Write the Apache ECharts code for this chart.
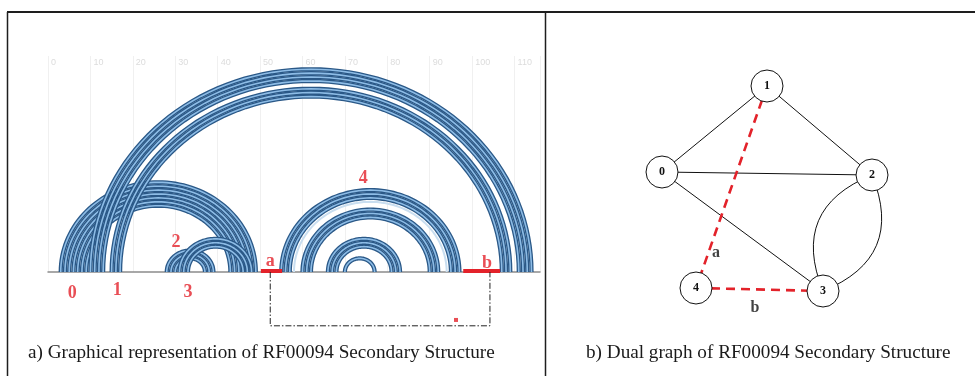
<!DOCTYPE html>
<html>
<head>
<meta charset="utf-8">
<script src="https://cdn.jsdelivr.net/npm/echarts@6/dist/echarts.min.js"></script>
<style>
  html, body { margin: 0; padding: 0; background: #fff; }
  #chart { width: 975px; height: 376px; }
</style>
</head>
<body>
<div id="chart"></div>
<script>
// helices of the arc diagram: outer pair (start, end) and number of stacked pairs
const helixStart = [3, 10, 15, 28, 31, 55, 60, 66, 70];
const helixEnd = [49, 114, 109, 39, 48, 97, 92, 83, 77];
const helixLength = [7, 4, 3, 3, 3, 3, 3, 3, 1];
// single pale arcs
const faintStart = [58];
const faintEnd = [94];

const axisTicks = [0, 10, 20, 30, 40, 50, 60, 70, 80, 90, 100, 110];

// red annotations on the arc diagram
const markText = ['0', '1', '2', '3', '4', 'a', 'b'];
const markX = [5.7, 16.3, 30.2, 33.0, 74.3, 52.4, 103.5];
const markY = [-5.4, -4.6, 7.7, -5.1, 24.1, 2.8, 2.3];

// unpaired strands a and b
const strandStart = [50.2, 97.9];
const strandEnd = [55.2, 106.6];

// bracket joining a and b
const bracketX = [52.4, 52.4, 104.2, 104.2];
const bracketY = [0, -13.8, -13.8, 0];

// dual graph
const nodeNames = ['0', '1', '2', '3', '4'];
const nodeX = [117, 222, 327, 278, 151];
const nodeY = [172, 86, 175, 291, 288];
const edgeSource = ['1', '1', '0', '0', '2', '2'];
const edgeTarget = ['0', '2', '2', '3', '3', '3'];
const edgeCurve = [0, 0, 0, 0, -0.5, 0.5];
const dashedSource = ['1', '4'];
const dashedTarget = ['4', '3'];
const edgeText = ['a', 'b'];
const edgeTextX = [171, 210];
const edgeTextY = [253, 308];

const red = '#e3222a';
const serif = '"Liberation Serif", "DejaVu Serif", serif';

const arcData = [];
helixStart.forEach((s, h) => {
  for (let k = 0; k < helixLength[h]; k++) {
    arcData.push([s + k, helixEnd[h] - k, 0]);
  }
});
faintStart.forEach((s, h) => arcData.push([s, faintEnd[h], 1]));

function renderArc(params, api) {
  const i = api.value(0), j = api.value(1), kind = api.value(2);
  const c = (i + j) / 2, r = (j - i) / 2;
  const pts = [];
  for (let k = 0; k <= 72; k++) {
    const t = Math.PI * k / 72;
    pts.push(api.coord([c - r * Math.cos(t), r * Math.sin(t)]));
  }
  if (kind === 1) {
    return { type: 'polyline', shape: { points: pts }, style: { fill: null, stroke: '#c9def0', lineWidth: 2 } };
  }
  return {
    type: 'group',
    children: [
      { type: 'polyline', shape: { points: pts }, style: { fill: null, stroke: '#2a5887', lineWidth: 4.2 } },
      { type: 'polyline', shape: { points: pts }, style: { fill: null, stroke: '#8dbce6', lineWidth: 1.6 } }
    ]
  };
}

const chart = echarts.init(document.getElementById('chart'), null, { renderer: 'canvas' });

const option = {
  animation: false,
  title: [
    {
      text: 'a) Graphical representation of RF00094 Secondary Structure',
      left: 28, top: 343, padding: 0,
      textStyle: { fontFamily: serif, fontSize: 19.2, fontWeight: 'normal', color: '#1a1a1a' }
    },
    {
      text: 'b) Dual graph of RF00094 Secondary Structure',
      left: 586, top: 343, padding: 0,
      textStyle: { fontFamily: serif, fontSize: 19.2, fontWeight: 'normal', color: '#1a1a1a' }
    }
  ],
  grid: [
    { left: 48, width: 492, top: 56, height: 216 },
    { left: 545, width: 430, top: 0, height: 376 }
  ],
  xAxis: [
    {
      gridIndex: 0, type: 'value', position: 'top', min: 0, max: 116, interval: 10,
      axisLine: { show: false }, axisTick: { show: false },
      axisLabel: {
        inside: true, margin: 2, align: 'left', padding: [0, 0, 0, 3],
        color: '#dcdcdc', fontSize: 9, showMaxLabel: false,
        formatter: v => (axisTicks.indexOf(v) >= 0 ? String(v) : '')
      },
      splitLine: { show: true, lineStyle: { color: '#f0f0f0', width: 1 } }
    },
    {
      gridIndex: 0, type: 'value', position: 'bottom', min: 0, max: 116,
      axisLine: { show: true, onZero: false, lineStyle: { color: '#8c8c8c', width: 1.5 } },
      axisTick: { show: false }, axisLabel: { show: false }, splitLine: { show: false }
    },
    { gridIndex: 1, type: 'value', min: 0, max: 430, show: false }
  ],
  yAxis: [
    { gridIndex: 0, type: 'value', min: 0, max: 55.4, show: false },
    { gridIndex: 1, type: 'value', min: 0, max: 376, inverse: true, show: false }
  ],
  graphic: [
    { type: 'line', shape: { x1: 7, y1: 12, x2: 975, y2: 12 }, style: { stroke: '#1e1e1e', lineWidth: 2 } },
    { type: 'line', shape: { x1: 7.5, y1: 12, x2: 7.5, y2: 376 }, style: { stroke: '#1e1e1e', lineWidth: 1.5 } },
    { type: 'line', shape: { x1: 545.5, y1: 12, x2: 545.5, y2: 376 }, style: { stroke: '#1e1e1e', lineWidth: 1.5 } }
  ],
  series: [
    {
      type: 'custom', xAxisIndex: 0, yAxisIndex: 0,
      renderItem: renderArc,
      encode: { x: [0, 1], y: 2 },
      data: arcData, silent: true, clip: false
    },
    {
      type: 'lines', coordinateSystem: 'cartesian2d', xAxisIndex: 0, yAxisIndex: 0,
      lineStyle: { color: red, width: 4, opacity: 1 },
      data: strandStart.map((s, k) => ({ coords: [[s, 0.3], [strandEnd[k], 0.3]] })),
      silent: true
    },
    {
      type: 'line', xAxisIndex: 0, yAxisIndex: 0,
      data: bracketX.map((x, k) => [x, bracketY[k]]),
      symbol: 'none', clip: false, silent: true,
      lineStyle: { color: '#222', width: 1, type: [6, 2, 1.5, 2] }
    },
    {
      type: 'scatter', xAxisIndex: 0, yAxisIndex: 0, clip: false, silent: true,
      data: [[96.2, -12.3]], symbol: 'rect', symbolSize: 4,
      itemStyle: { color: red }
    },
    {
      type: 'scatter', xAxisIndex: 0, yAxisIndex: 0, clip: false, silent: true,
      symbolSize: 0,
      data: markText.map((t, k) => [markX[k], markY[k], t]),
      label: {
        show: true, position: 'inside', formatter: p => p.value[2],
        color: red, fontFamily: serif, fontWeight: 'bold', fontSize: 18
      }
    },
    {
      type: 'graph', layout: 'none', coordinateSystem: 'cartesian2d',
      xAxisIndex: 2, yAxisIndex: 1, silent: true,
      symbol: 'circle', symbolSize: 32,
      itemStyle: { color: '#ffffff', borderColor: '#111', borderWidth: 1 },
      label: {
        show: true, position: 'inside', color: '#111',
        fontFamily: serif, fontWeight: 'bold', fontSize: 12
      },
      data: nodeNames.map((n, k) => ({ name: n, value: [nodeX[k], nodeY[k]] })),
      links: edgeSource.map((s, k) => ({
        source: s, target: edgeTarget[k],
        lineStyle: { color: '#111', width: 1, curveness: edgeCurve[k] }
      })).concat(dashedSource.map((s, k) => ({
        source: s, target: dashedTarget[k],
        lineStyle: { color: red, width: 2.6, type: [9, 6], curveness: 0 }
      }))),
      lineStyle: { opacity: 1 }
    },
    {
      type: 'scatter', xAxisIndex: 2, yAxisIndex: 1, silent: true, symbolSize: 0,
      data: edgeText.map((t, k) => [edgeTextX[k], edgeTextY[k], t]),
      label: {
        show: true, position: 'inside', formatter: p => p.value[2],
        color: '#111', fontFamily: serif, fontWeight: 'bold', fontSize: 16
      }
    }
  ]
};

chart.setOption(option);
</script>
</body>
</html>
